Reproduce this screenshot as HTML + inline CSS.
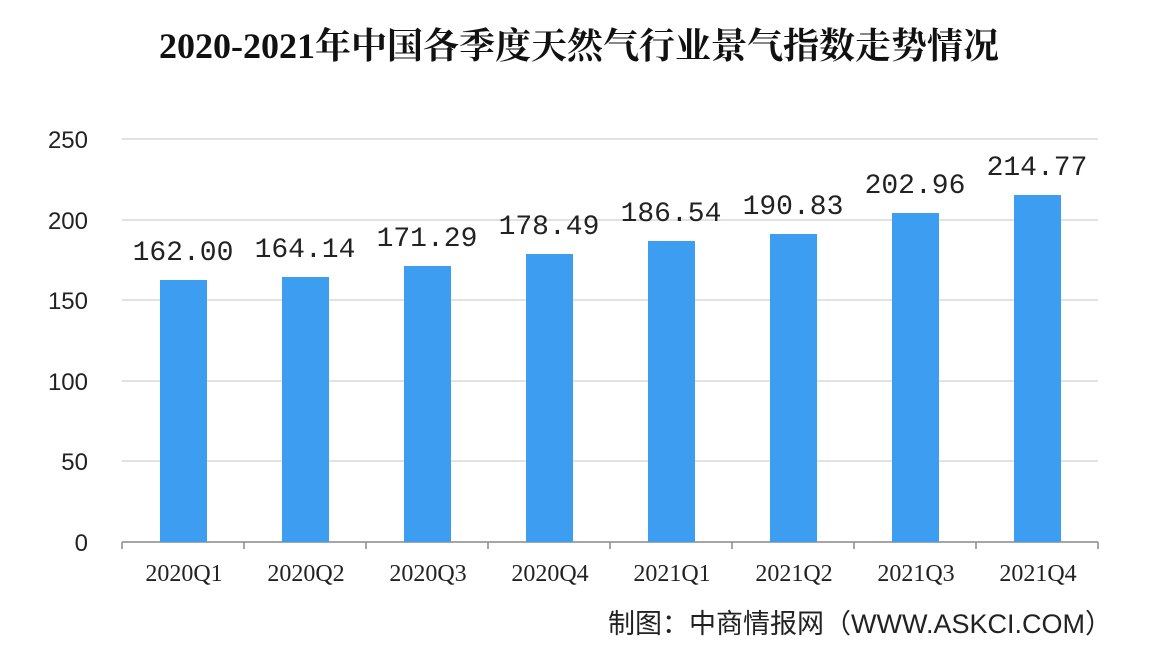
<!DOCTYPE html>
<html><head><meta charset="utf-8"><style>
body{margin:0;background:#fff;}
svg{display:block}
</style></head><body>
<svg width="1150" height="652" viewBox="0 0 1150 652" xmlns="http://www.w3.org/2000/svg">
<rect width="1150" height="652" fill="#fff"/>
<text x="579" y="58" text-anchor="middle" font-family="Liberation Serif, Noto Serif CJK SC, serif" font-weight="bold" font-size="36" fill="#111">2020-2021年中国各季度天然气行业景气指数走势情况</text>
<g stroke="#d9d9d9" stroke-width="1.5">
<line x1="122" y1="139" x2="1098" y2="139"/>
<line x1="122" y1="220" x2="1098" y2="220"/>
<line x1="122" y1="300" x2="1098" y2="300"/>
<line x1="122" y1="381" x2="1098" y2="381"/>
<line x1="122" y1="461" x2="1098" y2="461"/>
</g>
<line x1="122" y1="542" x2="1098" y2="542" stroke="#888" stroke-width="1.5"/>
<g stroke="#888" stroke-width="1.5">
<line x1="122" y1="542" x2="122" y2="549"/><line x1="244" y1="542" x2="244" y2="549"/><line x1="366" y1="542" x2="366" y2="549"/><line x1="488" y1="542" x2="488" y2="549"/><line x1="610" y1="542" x2="610" y2="549"/><line x1="732" y1="542" x2="732" y2="549"/><line x1="854" y1="542" x2="854" y2="549"/><line x1="976" y1="542" x2="976" y2="549"/><line x1="1098" y1="542" x2="1098" y2="549"/>
</g>
<g font-family="Liberation Sans, sans-serif" font-size="24" fill="#222" text-anchor="end">
<text x="88" y="148">250</text><text x="88" y="229">200</text><text x="88" y="309">150</text><text x="88" y="390">100</text><text x="88" y="470">50</text><text x="88" y="551">0</text>
</g>
<g fill="#3d9df0">
<rect x="160" y="280" width="47" height="262"/>
<rect x="282" y="277" width="47" height="265"/>
<rect x="404" y="266" width="47" height="276"/>
<rect x="526" y="254" width="47" height="288"/>
<rect x="648" y="241" width="47" height="301"/>
<rect x="770" y="234" width="47" height="308"/>
<rect x="892" y="213" width="47" height="329"/>
<rect x="1014" y="195" width="47" height="347"/>
</g>
<g font-family="Liberation Mono, monospace" font-size="28" fill="#222" text-anchor="middle">
<text x="183" y="260">162.00</text><text x="305" y="257">164.14</text><text x="427" y="246">171.29</text><text x="549" y="234">178.49</text><text x="671" y="221">186.54</text><text x="793" y="214">190.83</text><text x="915" y="193">202.96</text><text x="1037" y="175">214.77</text>
</g>
<g font-family="Liberation Serif, serif" font-size="24" fill="#222" text-anchor="middle">
<text x="184" y="581">2020Q1</text><text x="306" y="581">2020Q2</text><text x="428" y="581">2020Q3</text><text x="550" y="581">2020Q4</text><text x="672" y="581">2021Q1</text><text x="794" y="581">2021Q2</text><text x="916" y="581">2021Q3</text><text x="1038" y="581">2021Q4</text>
</g>
<text x="1112" y="633" text-anchor="end" font-family="Liberation Sans, Noto Sans CJK SC, sans-serif" font-size="27" fill="#222">制图：中商情报网（WWW.ASKCI.COM）</text>
</svg>
</body></html>
